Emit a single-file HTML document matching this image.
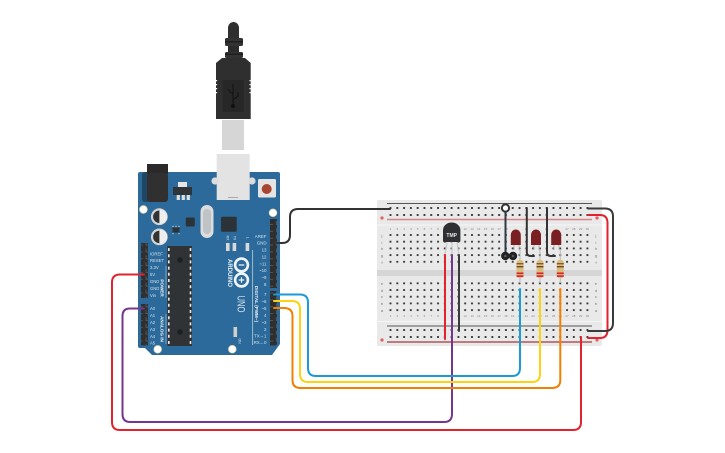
<!DOCTYPE html>
<html><head><meta charset="utf-8"><style>
html,body{margin:0;padding:0;background:#fff}
svg{display:block}
text{font-family:"Liberation Sans",sans-serif}
</style></head><body>
<svg width="725" height="453" viewBox="0 0 725 453" xmlns="http://www.w3.org/2000/svg">
<defs>
<pattern id="h5" patternUnits="userSpaceOnUse" x="387.1" y="231.65" width="6.79" height="6.7"><rect x="2.4" y="2.35" width="2" height="2" rx=".5" fill="#3c3c3c"/></pattern>
<pattern id="h5b" patternUnits="userSpaceOnUse" x="387.1" y="279.95" width="6.79" height="6.7"><rect x="2.4" y="2.35" width="2" height="2" rx=".5" fill="#3c3c3c"/></pattern>
<pattern id="r1" patternUnits="userSpaceOnUse" x="387.1" y="204.5" width="6.79" height="7"><rect x="2.4" y="2.5" width="2" height="2" rx=".5" fill="#3c3c3c"/></pattern>
<pattern id="r2" patternUnits="userSpaceOnUse" x="387.1" y="326.5" width="6.79" height="7"><rect x="2.4" y="2.5" width="2" height="2" rx=".5" fill="#3c3c3c"/></pattern>
<pattern id="hd" patternUnits="userSpaceOnUse" x="0" y="0" width="6.86" height="6.86"><rect width="6.86" height="6.86" fill="#2f2f2f"/><path d="M2 1.5V5H5.5" fill="none" stroke="#5a5a5a" stroke-width=".9"/></pattern>
</defs>

<!-- USB cable -->
<path d="M228 40V28a5.5 6 0 0 1 11 0V40z" fill="#2f2f2f"/>
<rect x="225" y="38" width="18" height="8" rx="1.5" fill="#333"/>
<rect x="225" y="41" width="18" height="1.5" fill="#1e1e1e"/>
<rect x="228" y="46" width="11" height="6" fill="#2b2b2b"/>
<rect x="225" y="52" width="18" height="6" rx="1.5" fill="#333"/>
<rect x="225" y="53.5" width="18" height="1.5" fill="#1e1e1e"/>
<path d="M222 58H245L250.7 63V119H216V63z" fill="#2f2f2f"/>
<path d="M216 80h1.2v1.2H216zM216 84h1.2v1.2H216zM216 88h1.2v1.2H216zM216 92h1.2v1.2H216zM249.5 80h1.2v1.2h-1.2zM249.5 84h1.2v1.2h-1.2zM249.5 88h1.2v1.2h-1.2zM249.5 92h1.2v1.2h-1.2z" fill="#fff"/>
<rect x="222.7" y="80" width="21" height="32" fill="#272727"/>
<path d="M233 84V106M233 94L229 91V89M233 100L238 96V92" stroke="#111" stroke-width="1" fill="none"/>
<circle cx="233" cy="106" r="2" fill="#111"/>
<rect x="222" y="120" width="22" height="30" fill="#d6d6d6"/>

<!-- Arduino board -->
<path d="M140 172H278a2 2 0 0 1 2 2V344l-8 11H152l-7-7H140a2 2 0 0 1-2-2V174a2 2 0 0 1 2-2z" fill="#2b6a9b"/>
<rect x="142" y="172" width="26" height="30" rx="3" fill="#1d3d55" opacity=".8"/>
<rect x="147" y="164" width="21" height="10" fill="#2a2a2a"/>
<rect x="147" y="173" width="21" height="29" rx="4" fill="#303030"/>
<rect x="216.7" y="154" width="33" height="46" fill="#e3e3e3"/>
<circle cx="215" cy="181" r="3.6" fill="#dcdcdc"/><circle cx="252" cy="181" r="3.6" fill="#dcdcdc"/>
<rect x="228" y="197" width="10" height="1" fill="#aaa"/>
<!-- regulator -->
<rect x="178" y="182" width="9" height="5" fill="#e6e6e6"/>
<rect x="173" y="187" width="19" height="8" fill="#2f3438"/>
<rect x="176.7" y="195" width="3.2" height="5" fill="#dedede"/><rect x="181.7" y="195" width="3.2" height="5" fill="#dedede"/><rect x="186.7" y="195" width="3.2" height="5" fill="#dedede"/>
<!-- reset -->
<rect x="258" y="179" width="18" height="18.5" rx="1.5" fill="#e4e4e4"/>
<circle cx="266.7" cy="189" r="5" fill="#a8472f"/>
<!-- holes -->
<g fill="#fff" stroke="#e8dcae" stroke-width=".8">
<circle cx="143.4" cy="209.5" r="3.8"/><circle cx="273" cy="212.8" r="3.8"/><circle cx="157.7" cy="349.3" r="3.8"/><circle cx="232.3" cy="349.2" r="3.8"/>
</g>
<!-- caps -->
<circle cx="159.3" cy="216.7" r="8.4" fill="#d4d4d4"/><path d="M159.3 210.5a6.2 6.2 0 0 0 0 12.4z" fill="#333"/><path d="M160 209.5a7.2 7.2 0 0 1 0 14.4z" fill="#eee"/>
<circle cx="159.3" cy="236.9" r="8.4" fill="#d4d4d4"/><path d="M159.3 230.7a6.2 6.2 0 0 0 0 12.4z" fill="#333"/><path d="M160 229.7a7.2 7.2 0 0 1 0 14.4z" fill="#eee"/>
<!-- crystal -->
<rect x="200.5" y="205" width="13" height="33" rx="6.5" fill="#dcdcdc"/><rect x="203" y="209" width="8" height="25" rx="4" fill="#bfc3c6"/>
<!-- ICs -->
<rect x="221" y="216.7" width="15.7" height="15" rx="1" fill="#2c3338"/>
<rect x="185.8" y="217.5" width="9" height="9" rx="1" fill="#2c3338"/>
<rect x="172.5" y="227.5" width="7" height="5" fill="#2c3338"/>
<path d="M173 227v-1.2M176 227v-1.2M179 227v-1.2M173 233v1.2M179 233v1.2" stroke="#ddd" stroke-width="1"/>
<!-- LEDs -->
<rect x="226" y="243" width="3.6" height="8" fill="#d9d9d9"/><rect x="232.6" y="243" width="3.6" height="8" fill="#d9d9d9"/><rect x="245.6" y="243" width="3.6" height="8" fill="#d9d9d9"/>
<rect x="233.5" y="327" width="3.6" height="10" fill="#cfcfcf"/>
<!-- headers -->
<rect x="270" y="219" width="7" height="69" fill="url(#hd)"/>
<rect x="270" y="291" width="7" height="54.5" fill="url(#hd)"/>
<rect x="141" y="243" width="6.9" height="55" fill="url(#hd)"/>
<rect x="141" y="304" width="6.9" height="41.4" fill="url(#hd)"/>
<!-- chip -->
<rect x="167.3" y="246" width="24.7" height="100" fill="#2f3336"/>
<path d="M168.8 248V344M190.5 248V344" stroke="#e8e8e8" stroke-width="1.6" stroke-dasharray="3 3.2"/>
<circle cx="180" cy="260" r="2.8" fill="#1d1f21"/><circle cx="180" cy="332" r="2.8" fill="#1d1f21"/>

<!-- Arduino text -->
<g fill="#d5e2ec" font-size="4.4" text-anchor="end">
<text x="266.5" y="238">AREF</text><text x="266.5" y="244.6">GND</text><text x="266.5" y="251.5">13</text><text x="266.5" y="258.4">12</text><text x="266.5" y="265.3">~11</text><text x="266.5" y="272">~10</text><text x="266.5" y="279">~9</text><text x="266.5" y="286">8</text><text x="266.5" y="296">7</text><text x="266.5" y="303">~6</text><text x="266.5" y="310">~5</text><text x="266.5" y="317">4</text><text x="266.5" y="324">~3</text><text x="266.5" y="331">2</text><text x="266.5" y="337.5">TX→1</text><text x="266.5" y="344">RX←0</text>
</g>
<g fill="#d5e2ec" font-size="4.2">
<text x="150" y="255.5">IOREF</text><text x="150" y="262">RESET</text><text x="150" y="269">3.3V</text><text x="150" y="276">5V</text><text x="150" y="283">GND</text><text x="150" y="290">GND</text><text x="150" y="297">Vin</text>
<text x="150" y="310">A0</text><text x="150" y="317">A1</text><text x="150" y="324">A2</text><text x="150" y="331">A3</text><text x="150" y="338">A4</text><text x="150" y="344.5">A5</text>
</g>
<g fill="#e6eef4" font-size="4.6" font-weight="bold" text-anchor="middle">
<text transform="translate(160.5 288) rotate(90)">POWER</text>
<text transform="translate(160.5 329) rotate(90)">ANALOG IN</text>
</g>
<path d="M166 266V298M166 314V344" stroke="#cfdde8" stroke-width=".5" fill="none"/>
<path d="M252.7 250V345" stroke="#cfdde8" stroke-width=".7"/>
<text transform="translate(255 304) rotate(90)" fill="#e6eef4" font-size="4.6" font-weight="bold" text-anchor="middle">DIGITAL (PWM~)</text>
<text transform="translate(228 273) rotate(90)" fill="#e6eef4" font-size="6" font-weight="bold" text-anchor="middle">ARDUINO</text>
<text transform="translate(237.6 304) rotate(90)" fill="#d7e4ee" font-size="11" text-anchor="middle" textLength="17" lengthAdjust="spacingAndGlyphs">UNO</text>
<g fill="#dfe9f1" font-size="3.4" text-anchor="middle">
<text transform="translate(226.7 238) rotate(90)">RX</text>
<text transform="translate(233.3 238) rotate(90)">TX</text>
<text transform="translate(246.3 238) rotate(90)">L</text>
<text transform="translate(238.5 341) rotate(90)">ON</text>
</g>
<g fill="none" stroke="#eef4f8" stroke-width="2.6"><circle cx="241.5" cy="265" r="6.4"/><circle cx="241.5" cy="280" r="6.4"/></g>
<path d="M238.7 265H244.3M238.7 280H244.3M241.5 277.2V282.8" stroke="#eef4f8" stroke-width="1.2"/>

<!-- Breadboard -->
<rect x="377" y="200" width="225" height="146" rx="2" fill="#e9e9e9"/>
<rect x="377" y="270" width="225" height="6" fill="#d6d6d6"/>
<path d="M377 225H602M377 321.5H602" stroke="#f5f5f5" stroke-width="1"/>
<path d="M387 203.5H592M387 326H592" stroke="#555" stroke-width="1"/>
<path d="M387 219.5H592" stroke="#d78585" stroke-width="1.5"/>
<path d="M387 342H592" stroke="#a33a3a" stroke-width="1.2"/>
<circle cx="382" cy="218" r="1.6" fill="#e06060"/><circle cx="382" cy="340" r="1.6" fill="#e06060"/>
<circle cx="597" cy="218" r="1.6" fill="#e06060"/><circle cx="597" cy="340" r="1.6" fill="#e06060"/>
<rect x="387.1" y="204.5" width="203.7" height="14" fill="url(#r1)"/>
<rect x="387.1" y="326.5" width="203.7" height="14" fill="url(#r2)"/>
<rect x="387.1" y="231.65" width="203.7" height="33.5" fill="url(#h5)"/>
<rect x="387.1" y="279.95" width="203.7" height="33.5" fill="url(#h5b)"/>
<g font-size="4" fill="#777" text-anchor="middle">
<text x="382" y="237">j</text><text x="382" y="244">i</text><text x="382" y="250">h</text><text x="382" y="257">g</text><text x="382" y="264">f</text>
<text x="382" y="285">e</text><text x="382" y="292">d</text><text x="382" y="298">c</text><text x="382" y="305">b</text><text x="382" y="312">a</text>
<text x="596" y="237">j</text><text x="596" y="244">i</text><text x="596" y="250">h</text><text x="596" y="257">g</text><text x="596" y="264">f</text>
<text x="596" y="285">e</text><text x="596" y="292">d</text><text x="596" y="298">c</text><text x="596" y="305">b</text><text x="596" y="312">a</text>
</g>
<g font-size="3" fill="#888" text-anchor="middle">
<text x="390.5" y="230">1</text><text x="397.3" y="230">2</text><text x="404.1" y="230">3</text><text x="410.9" y="230">4</text><text x="417.7" y="230">5</text><text x="424.4" y="230">6</text><text x="431.2" y="230">7</text><text x="438" y="230">8</text><text x="465.2" y="230">12</text><text x="472" y="230">13</text><text x="478.8" y="230">14</text><text x="485.6" y="230">15</text><text x="492.3" y="230">16</text><text x="499.1" y="230">17</text><text x="505.9" y="230">18</text><text x="526.3" y="230">21</text><text x="546.7" y="230">24</text><text x="567" y="230">27</text><text x="573.8" y="230">28</text><text x="580.6" y="230">29</text><text x="587.4" y="230">30</text>
<text x="390.5" y="317">1</text><text x="397.3" y="317">2</text><text x="404.1" y="317">3</text><text x="410.9" y="317">4</text><text x="417.7" y="317">5</text><text x="424.4" y="317">6</text><text x="431.2" y="317">7</text><text x="438" y="317">8</text><text x="444.8" y="317">9</text><text x="451.6" y="317">10</text><text x="458.4" y="317">11</text><text x="465.2" y="317">12</text><text x="472" y="317">13</text><text x="478.8" y="317">14</text><text x="485.6" y="317">15</text><text x="492.3" y="317">16</text><text x="499.1" y="317">17</text><text x="505.9" y="317">18</text><text x="512.7" y="317">19</text><text x="519.5" y="317">20</text><text x="526.3" y="317">21</text><text x="533.1" y="317">22</text><text x="539.9" y="317">23</text><text x="546.7" y="317">24</text><text x="553.5" y="317">25</text><text x="560.3" y="317">26</text><text x="567" y="317">27</text><text x="573.8" y="317">28</text><text x="580.6" y="317">29</text><text x="587.4" y="317">30</text>
</g>

<!-- TMP sensor -->
<path d="M445 255L447 242M452 255V242M459 255L457 242" stroke="#c9c9c9" stroke-width="1.2"/>
<path d="M443 241V230a8.7 7.5 0 0 1 17.4 0V241a1 1 0 0 1-1 1H444a1 1 0 0 1-1-1z" fill="#2e3033"/>
<text x="451.7" y="237" font-size="5" font-weight="bold" fill="#e8e8e8" text-anchor="middle">TMP</text>

<!-- Breadboard LEDs -->
<g fill="#7a1f22">
<path d="M510.8 245V235a5 5.5 0 0 1 10 0V245z"/><path d="M531 245V235a5 5.5 0 0 1 10 0V245z"/><path d="M551.2 245V235a5 5.5 0 0 1 10 0V245z"/>
</g>
<path d="M514 245V250M519 245V250M534 245V250M539 245V250M554 245V250M559 245V250" stroke="#b9b9b9" stroke-width="1"/>

<!-- Resistors -->
<path d="M520 250V283" stroke="#b8b8b8" stroke-width="1"/>
<rect x="516.5" y="260" width="7" height="18" rx="2.6" fill="#d9bd80"/>
<rect x="516.5" y="263" width="7" height="1.4" fill="#8a5a2a"/><rect x="516.5" y="266" width="7" height="1.4" fill="#6a4a2a"/><rect x="516.5" y="272.5" width="7" height="1.6" fill="#d8202a"/><rect x="516.5" y="275.3" width="7" height="1.6" fill="#d8202a"/>
<path d="M540 250V283" stroke="#b8b8b8" stroke-width="1"/>
<rect x="536.5" y="260" width="7" height="18" rx="2.6" fill="#d9bd80"/>
<rect x="536.5" y="263" width="7" height="1.4" fill="#8a5a2a"/><rect x="536.5" y="266" width="7" height="1.4" fill="#6a4a2a"/><rect x="536.5" y="272.5" width="7" height="1.6" fill="#d8202a"/><rect x="536.5" y="275.3" width="7" height="1.6" fill="#d8202a"/>
<path d="M560.3 250V283" stroke="#b8b8b8" stroke-width="1"/>
<rect x="556.8" y="260" width="7" height="18" rx="2.6" fill="#d9bd80"/>
<rect x="556.8" y="263" width="7" height="1.4" fill="#8a5a2a"/><rect x="556.8" y="266" width="7" height="1.4" fill="#6a4a2a"/><rect x="556.8" y="272.5" width="7" height="1.6" fill="#d8202a"/><rect x="556.8" y="275.3" width="7" height="1.6" fill="#d8202a"/>

<!-- Wires -->
<g fill="none" stroke-width="2" stroke-linecap="round" stroke-linejoin="round">
<path d="M274 243H282Q290 243 290 235V217Q290 209 298 209H390" stroke="#333"/>
<path d="M144 274.5H120Q112 274.5 112 282.5V422Q112 430 120 430H573Q581 430 581 422V337" stroke="#e0232e"/>
<path d="M144 308.5H130Q122.5 308.5 122.5 316V414Q122.5 422 130 422H444Q452 422 452 414V255" stroke="#76358f"/>
<path d="M445 255V339" stroke="#e0232e"/>
<path d="M459 255V331" stroke="#3a3a3a"/>
<path d="M274 294.5H300Q308 294.5 308 302.5V368Q308 376 316 376H512Q520 376 520 368V289" stroke="#1a9ad6"/>
<path d="M274 301H292Q300 301 300 309V374Q300 382 308 382H532Q540 382 540 374V289" stroke="#fbd30f"/>
<path d="M274 308H284Q292.5 308 292.5 316V380Q292.5 388 300.5 388H552Q560.3 388 560.3 380V289" stroke="#f08000"/>
<path d="M588 215H600Q607.5 215 607.5 223V330Q607.5 338 600 338H588" stroke="#e0232e"/>
<path d="M588 208.5H605Q613 208.5 613 216.5V323Q613 331 605 331H588" stroke="#3a3a3a"/>
<path d="M505.5 208V255" stroke="#2e3a44"/>
<path d="M526.8 208V252Q526.8 256 531 256H534" stroke="#333"/>
<path d="M547 208V252Q547 256 551 256H555" stroke="#333"/>
</g>
<circle cx="505.5" cy="208" r="3.6" fill="#fff" stroke="#333" stroke-width="2"/>
<circle cx="505.3" cy="256" r="4.2" fill="#222"/><circle cx="513" cy="256" r="4.2" fill="#222"/>
<circle cx="505.3" cy="256" r="1.3" fill="#555"/><circle cx="513" cy="256" r="1.3" fill="#555"/>
</svg>
</body></html>
